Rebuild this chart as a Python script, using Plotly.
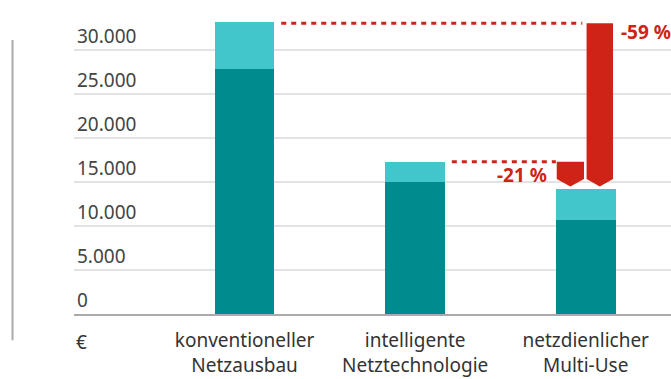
import plotly.graph_objects as go

categories = ["konventioneller<br>Netzausbau", "intelligente<br>Netztechnologie", "netzdienlicher<br>Multi-Use"]
base_values = [27800, 15000, 10700]
extra_values = [5400, 2300, 3500]
tick_values = [0, 5000, 10000, 15000, 20000, 25000, 30000, 35000]
tick_labels = ["0", "5.000", "10.000", "15.000", "20.000", "25.000", "30.000", ""]
pct_labels = ["-59 %", "-21 %"]

DARK = "#008B8F"
LIGHT = "#43C6CB"
RED = "#CF2317"
FONT = "Noto Sans"

xs = list(range(len(categories)))
totals = [b + e for b, e in zip(base_values, extra_values)]
bw = 0.35

fig = go.Figure()
fig.add_bar(x=xs, y=base_values, marker=dict(color=DARK, line=dict(width=0)), width=bw)
fig.add_bar(x=xs, y=extra_values, marker=dict(color=LIGHT, line=dict(width=0)), width=bw)

# dashed reference lines
fig.add_shape(type="line", x0=xs[0] + bw / 2 + 0.04, x1=xs[2] - 0.02, y0=totals[0] - 150, y1=totals[0] - 150,
              line=dict(color=RED, width=3, dash="5px,5px"))
fig.add_shape(type="line", x0=xs[1] + bw / 2 + 0.04, x1=xs[2] - bw / 2, y0=totals[1], y1=totals[1],
              line=dict(color=RED, width=3, dash="5px,5px"))

# arrows
def arrow(xl, xr, ytop, ybottom, tip):
    xm = (xl + xr) / 2
    return (f"M {xl},{ytop} L {xr},{ytop} L {xr},{ybottom + tip} "
            f"L {xm},{ybottom} L {xl},{ybottom + tip} Z")

gap = 300
tip = 850
fig.add_shape(type="path", path=arrow(xs[2] - bw / 2 + 0.005, xs[2] - 0.01, totals[1], totals[2] + gap, tip),
              fillcolor=RED, line=dict(width=0))
fig.add_shape(type="path", path=arrow(xs[2] + 0.005, xs[2] + bw / 2 - 0.015, totals[0] - 150, totals[2] + gap, tip),
              fillcolor=RED, line=dict(width=0))

fig.add_annotation(x=xs[2] + 0.195, y=totals[0] - 1150, text=f"<b>{pct_labels[0]}</b>", showarrow=False,
                   xanchor="left", yanchor="middle", font=dict(color=RED, size=19, family=FONT))
fig.add_annotation(x=xs[2] - 0.215, y=totals[1] - 1550, text=f"<b>{pct_labels[1]}</b>", showarrow=False,
                   xanchor="right", yanchor="middle", font=dict(color=RED, size=19, family=FONT))

fig.add_annotation(xref="paper", yref="paper", x=0, y=0, yshift=-28, text="€", showarrow=False,
                   xanchor="left", yanchor="middle", font=dict(color="#333333", size=19, family=FONT))

# left vertical line
fig.add_shape(type="line", xref="paper", yref="paper", x0=-0.103, x1=-0.103, y0=-0.085, y1=0.89,
              line=dict(color="#AAAAAA", width=2))

fig.update_layout(
    barmode="stack",
    width=671, height=379,
    margin=dict(l=74, r=0, t=6, b=65),
    paper_bgcolor="white", plot_bgcolor="white",
    showlegend=False,
    font=dict(family=FONT, size=19, color="#333333"),
    xaxis=dict(range=[-1.0, 2.5], tickvals=xs, ticktext=categories, showgrid=False,
               showline=True, linecolor="#AAAAAA", linewidth=2, zeroline=False,
               ticks="outside", ticklen=8, tickcolor="rgba(0,0,0,0)", fixedrange=True,
               tickfont=dict(size=19), automargin=False),
    yaxis=dict(range=[0, 35000], tickvals=tick_values, ticktext=tick_labels,
               ticklabelposition="inside top", showgrid=True, gridcolor="#E3E3E3", gridwidth=2,
               zeroline=False, showline=False, fixedrange=True, automargin=False),
)

fig.write_html("out.html")
